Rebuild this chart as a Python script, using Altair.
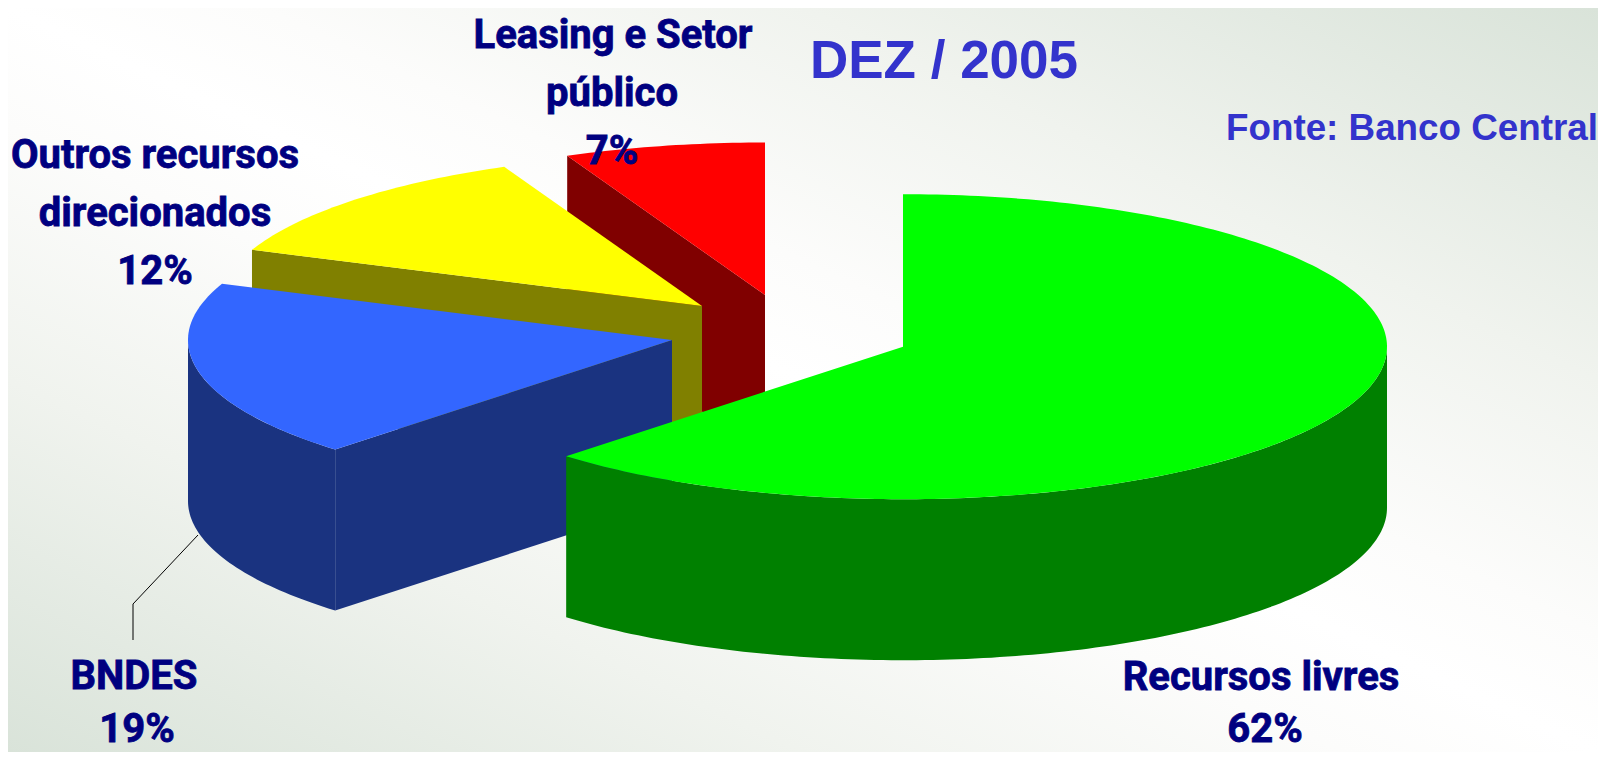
import math
import altair as alt
import pandas as pd

# ---- values
categories = ["Recursos livres", "BNDES", "Outros recursos direcionados", "Leasing e Setor público"]
shares = [62.25, 18.75, 12.3, 6.7]
top_colors = ["#00FF00", "#3366FF", "#FFFF00", "#FF0000"]
side_colors = ["#008000", "#1A3380", "#808000", "#800000"]
# sector apex on the page (slices are pulled apart)
apex_x = [903, 672, 702, 765]
apex_y = [346.7, 340, 306, 295]

RX, RY, DEPTH = 484, 152.5, 161
PAGE = 8  # page margin
W, H = 1590, 744

label_text = ["Leasing e Setor", "público", "7%", "Outros recursos", "direcionados", "12%",
              "BNDES", "19%", "Recursos livres", "62%"]
label_x = [613, 612, 612, 155, 155, 155, 134, 137, 1261, 1265]
label_y = [48, 106, 164, 168, 226, 284, 689, 742, 690, 742]
leader_x = [198, 133, 133]
leader_y = [535, 604, 640]


def rim(cx, cy, a0, a1, dy=0.0):
    n = max(2, int(abs(a1 - a0)) + 1)
    pts = []
    for i in range(n + 1):
        a = math.radians(a0 + (a1 - a0) * i / n)
        pts.append([cx + RX * math.sin(a) - PAGE, cy - RY * math.cos(a) + dy - PAGE])
    return pts


def feature(pts, fill):
    return {"type": "Feature", "properties": {"fill": fill},
            "geometry": {"type": "Polygon", "coordinates": [pts + [pts[0]]]}}


edges = [0.0]
for s in shares:
    edges.append(edges[-1] + s * 3.6)

features = []
for i in [3, 2, 1, 0]:
    cx, cy = apex_x[i], apex_y[i]
    a0, a1 = edges[i], edges[i + 1]
    c = [cx - PAGE, cy - PAGE]
    c_low = [cx - PAGE, cy - PAGE + DEPTH]
    if i == 0:
        # only the outer wall shows
        wall_top = rim(cx, cy, 90, a1)
        wall_low = rim(cx, cy, 90, a1, DEPTH)
        features.append(feature(wall_top + wall_low[::-1], side_colors[i]))
    elif i == 1:
        # cut face on the start edge, then the outer wall up to the leftmost point
        p = rim(cx, cy, a0, a0)[0]
        q = [p[0], p[1] + DEPTH]
        features.append(feature([c, p, q, c_low], side_colors[i]))
        wall_top = rim(cx, cy, a0, 270)
        wall_low = rim(cx, cy, a0, 270, DEPTH)
        features.append(feature(wall_top + wall_low[::-1], side_colors[i]))
    else:
        # cut face on the far edge
        p = rim(cx, cy, a0, a0)[0]
        q = [p[0], p[1] + DEPTH]
        features.append(feature([c, p, q, c_low], side_colors[i]))
    features.append(feature([c] + rim(cx, cy, a0, a1), top_colors[i]))

proj = dict(type="identity", scale=1, translate=[0, 0])

geo = alt.InlineData(values={"type": "FeatureCollection", "features": features},
                     format=alt.DataFormat(type="json", property="features"))

gradient = alt.LinearGradient(
    gradient="linear", x1=0, y1=1, x2=1, y2=0,
    stops=[
        alt.GradientStop(offset=0, color="#D9E3D9"),
        alt.GradientStop(offset=0.25, color="#F0F3EE"),
        alt.GradientStop(offset=0.42, color="#FCFCFB"),
        alt.GradientStop(offset=0.5, color="#FFFFFF"),
        alt.GradientStop(offset=0.58, color="#FCFCFB"),
        alt.GradientStop(offset=0.75, color="#F0F3EE"),
        alt.GradientStop(offset=1, color="#D9E3D9"),
    ],
)
background = alt.Chart(pd.DataFrame({"a": [0]})).mark_rect(fill=gradient).encode(
    x=alt.value(0), x2=alt.value(W), y=alt.value(0), y2=alt.value(H)
)

pie = alt.Chart(geo).mark_geoshape(strokeWidth=0).encode(
    fill=alt.Fill("properties.fill:N", scale=None)
)

labels_df = pd.DataFrame({"t": label_text,
                          "lon": [v - PAGE for v in label_x],
                          "lat": [v - PAGE for v in label_y]})
labels = alt.Chart(labels_df).mark_text(
    font="Roboto", fontWeight="bold", fontSize=40,
    color="#000080", stroke="#000080", strokeWidth=0.8, align="center", baseline="alphabetic"
).encode(longitude="lon:Q", latitude="lat:Q", text="t:N")

titles_df = pd.DataFrame({"t": ["DEZ / 2005"], "lon": [944 - PAGE], "lat": [78 - PAGE]})
title = alt.Chart(titles_df).mark_text(
    font="Liberation Sans", fontWeight="bold", fontSize=53,
    color="#3333CC", align="center", baseline="alphabetic"
).encode(longitude="lon:Q", latitude="lat:Q", text="t:N")

source_df = pd.DataFrame({"t": ["Fonte: Banco Central"], "lon": [1412 - PAGE], "lat": [140 - PAGE]})
source = alt.Chart(source_df).mark_text(
    font="Liberation Sans", fontWeight="bold", fontSize=36.8,
    color="#3333CC", align="center", baseline="alphabetic"
).encode(longitude="lon:Q", latitude="lat:Q", text="t:N")

leader_df = pd.DataFrame({"lon": [v - PAGE for v in leader_x],
                          "lat": [v - PAGE for v in leader_y],
                          "o": list(range(len(leader_x)))})
leader = alt.Chart(leader_df).mark_line(color="#000000", strokeWidth=1).encode(
    longitude="lon:Q", latitude="lat:Q", order="o:O"
)

chart = alt.layer(background, pie, leader, labels, title, source).project(**proj).properties(
    width=W, height=H, padding=0, autosize=alt.AutoSizeParams(type="none")
).configure_view(stroke=None)

chart.save("out.html", embed_options={"renderer": "svg", "actions": False})
